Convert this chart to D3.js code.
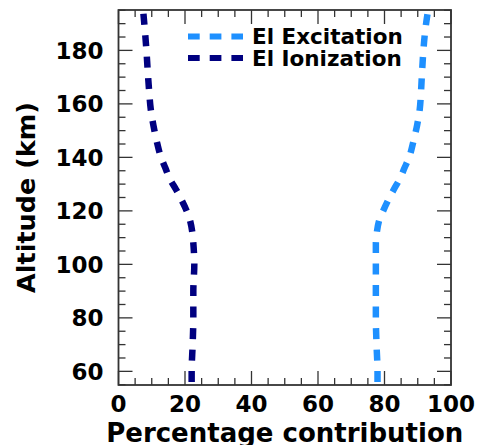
<!DOCTYPE html>
<html>
<head>
<meta charset="utf-8">
<script src="https://cdn.jsdelivr.net/npm/d3@7"></script>
<style>
    body { margin: 0; background: #fff; }
    text { font-family: "DejaVu Sans", sans-serif; font-weight: bold; fill: #000; }
</style>
</head>
<body>
<div id="chart"></div>
<script>
// altitude (km) of each sample
const altitudes = [56, 60, 70, 80, 90, 100, 108, 112, 116, 120, 124, 128, 132, 136, 140, 146, 152, 158, 165, 172, 180, 188, 195]
// percentage contribution
const excitation = [77.9, 77.9, 77.6, 77.4, 77.4, 77.4, 77.4, 77.7, 78.3, 79.6, 81.1, 82.8, 84.6, 86.0, 87.4, 88.7, 89.8, 90.6, 91.0, 91.3, 91.7, 92.3, 93.1]
const ionization = [22.0, 22.0, 22.3, 22.5, 22.5, 22.8, 22.5, 22.2, 21.6, 20.5, 19.0, 17.3, 15.4, 14.1, 12.8, 11.5, 10.5, 9.7, 9.2, 8.8, 8.4, 7.9, 7.4]
const seriesNames = ["El Excitation", "El Ionization"]
const seriesColors = ["#1e90ff", "#000080"]
const xTicks = [0, 20, 40, 60, 80, 100]
const yTicks = [60, 80, 100, 120, 140, 160, 180]

const width = 480
const height = 445
const margin = {top: 10, right: 29, bottom: 60, left: 118.5}
const innerW = width - margin.left - margin.right
const innerH = height - margin.top - margin.bottom

const svg = d3.select("#chart").append("svg")
    .attr("width", width)
    .attr("height", height)

const g = svg.append("g")
    .attr("transform", "translate(" + margin.left + "," + margin.top + ")")

const x = d3.scaleLinear().domain([0, 100]).range([0, innerW])
const y = d3.scaleLinear().domain([54.9, 195.1]).range([innerH, 0])

g.append("clipPath").attr("id", "clip")
    .append("rect").attr("width", innerW).attr("height", innerH)

// series
const line = d3.line()
    .x(d => x(d[0]))
    .y(d => y(d[1]))
    .curve(d3.curveMonotoneY)

const series = [excitation, ionization]
series.forEach((vals, i) => {
    g.append("path")
        .datum(vals.map((v, j) => [v, altitudes[j]]))
        .attr("clip-path", "url(#clip)")
        .attr("fill", "none")
        .attr("stroke", seriesColors[i])
        .attr("stroke-width", 6.5)
        .attr("stroke-dasharray", "11,10.5")
        .attr("d", line)
})

// ticks, inward on all four sides
const minorX = d3.range(0, 101, 5)
const minorY = d3.range(55, 196, 5)
const tickLen = v => (v % 20 === 0 ? 14 : 7)
const tickColor = "#333"

minorX.forEach(v => {
    const len = tickLen(v)
    g.append("line").attr("x1", x(v)).attr("x2", x(v)).attr("y1", innerH).attr("y2", innerH - len)
        .attr("stroke", tickColor).attr("stroke-width", 1.3)
    g.append("line").attr("x1", x(v)).attr("x2", x(v)).attr("y1", 0).attr("y2", len)
        .attr("stroke", tickColor).attr("stroke-width", 1.3)
})
minorY.forEach(v => {
    const len = tickLen(v)
    g.append("line").attr("x1", 0).attr("x2", len).attr("y1", y(v)).attr("y2", y(v))
        .attr("stroke", tickColor).attr("stroke-width", 1.3)
    g.append("line").attr("x1", innerW).attr("x2", innerW - len).attr("y1", y(v)).attr("y2", y(v))
        .attr("stroke", tickColor).attr("stroke-width", 1.3)
})

g.append("rect")
    .attr("width", innerW)
    .attr("height", innerH)
    .attr("fill", "none")
    .attr("stroke", tickColor)
    .attr("stroke-width", 1.8)

// tick labels
g.selectAll(".xl").data(xTicks).enter().append("text")
    .attr("x", d => x(d))
    .attr("y", innerH + 26.5)
    .attr("text-anchor", "middle")
    .style("font-size", "23px")
    .text(d => d)

g.selectAll(".yl").data(yTicks).enter().append("text")
    .attr("x", -15)
    .attr("y", d => y(d))
    .attr("dy", "0.36em")
    .attr("text-anchor", "end")
    .style("font-size", "23px")
    .text(d => d)

// axis titles
svg.append("text")
    .attr("x", margin.left + innerW / 2)
    .attr("y", 441.5)
    .attr("text-anchor", "middle")
    .style("font-size", "26px")
    .text("Percentage contribution")

svg.append("text")
    .attr("transform", "translate(35," + (margin.top + innerH / 2) + ") rotate(-90)")
    .attr("text-anchor", "middle")
    .style("font-size", "25.5px")
    .text("Altitude (km)")

// legend
const legend = svg.append("g")
seriesNames.forEach((name, i) => {
    const ly = 36.5 + i * 21.5
    legend.append("line")
        .attr("x1", 188).attr("x2", 243)
        .attr("y1", ly).attr("y2", ly)
        .attr("stroke", seriesColors[i])
        .attr("stroke-width", 6)
        .attr("stroke-dasharray", "11.7,10")
    legend.append("text")
        .attr("x", 252)
        .attr("y", ly)
        .attr("dy", "0.36em")
        .style("font-size", "21.5px")
        .text(name)
})
</script>
</body>
</html>
